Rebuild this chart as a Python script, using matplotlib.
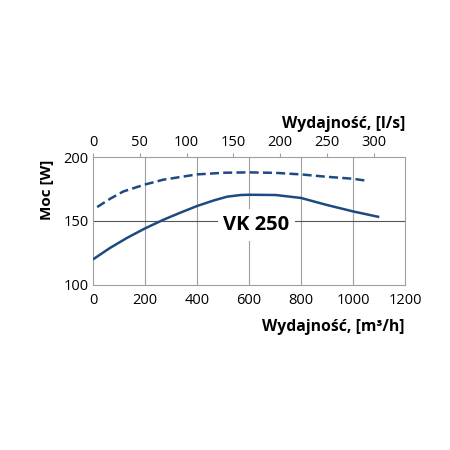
import numpy as np
import matplotlib
matplotlib.use("Agg")
import matplotlib.pyplot as plt

plt.rcParams['font.family'] = ['Open Sans', 'DejaVu Sans']

# solid curve: power vs flow [m3/h]
solid_flow = [0, 65, 130, 198, 271, 336, 400, 465, 516, 568, 600, 703, 800, 896, 1000, 1101]
solid_power = [120.0, 128.9, 136.7, 144.0, 151.0, 156.5, 161.7, 166.1, 169.0, 170.3, 170.5,
               170.3, 168.0, 162.7, 157.5, 153.1]

# dashed curve
dashed_flow = [16, 66, 117, 198, 271, 400, 503, 600, 703, 800, 896, 1000, 1044]
dashed_power = [160.9, 167.4, 173.1, 178.4, 182.3, 186.4, 187.7, 188.0, 187.6, 186.4, 184.6,
                183.0, 181.7]

x_ticks = [0, 200, 400, 600, 800, 1000, 1200]
y_ticks = [100, 150, 200]
top_ticks = [0, 50, 100, 150, 200, 250, 300]
M3H_PER_LS = 3.6

line_color = '#1d4a82'
grid_color = '#a0a0a0'

fig = plt.figure(figsize=(4.5, 4.5), dpi=100)
ax = fig.add_axes([0.2067, 0.3667, 0.6933, 0.2844])

ax.plot(solid_flow, solid_power, color=line_color, lw=1.8, zorder=3,
        solid_joinstyle='round', solid_capstyle='butt')
ax.plot(dashed_flow, dashed_power, color=line_color, lw=1.8, dashes=(3.6, 1.7), zorder=3)

ax.set_xlim(0, 1200)
ax.set_ylim(100, 200)
ax.set_xticks(x_ticks)
ax.set_yticks(y_ticks)
ax.tick_params(axis='x', length=0, labelsize=10.5, pad=6)
ax.tick_params(axis='y', length=0, labelsize=10.5, pad=3)

for x in x_ticks[1:-1]:
    ax.axvline(x, color=grid_color, lw=0.8, zorder=1)
ax.axhline(150, color='#555555', lw=0.8, zorder=1)

for s in ax.spines.values():
    s.set_color(grid_color)
    s.set_linewidth(0.8)

ax.text(628, 146.8, 'VK 250', fontsize=14.5, fontweight='bold', ha='center', va='center',
        bbox=dict(facecolor='white', edgecolor='none', pad=4), zorder=2)

ax.set_ylabel('Moc [W]', fontsize=11, fontweight='bold')
ax.yaxis.set_label_coords(-0.125, 0.74)
ax.set_xlabel('Wydajność, [m³/h]', fontsize=11.3, fontweight='bold', loc='right', labelpad=8)

top = ax.secondary_xaxis('top', functions=(lambda v: v / M3H_PER_LS, lambda v: v * M3H_PER_LS))
top.set_xticks(top_ticks)
top.tick_params(length=3, color=grid_color, labelsize=10.5, pad=2)
top.spines['top'].set_visible(False)
top.set_xlabel('Wydajność, [l/s]', fontsize=11.3, fontweight='bold', loc='right', labelpad=5)

fig.savefig('out.png', dpi=100)
